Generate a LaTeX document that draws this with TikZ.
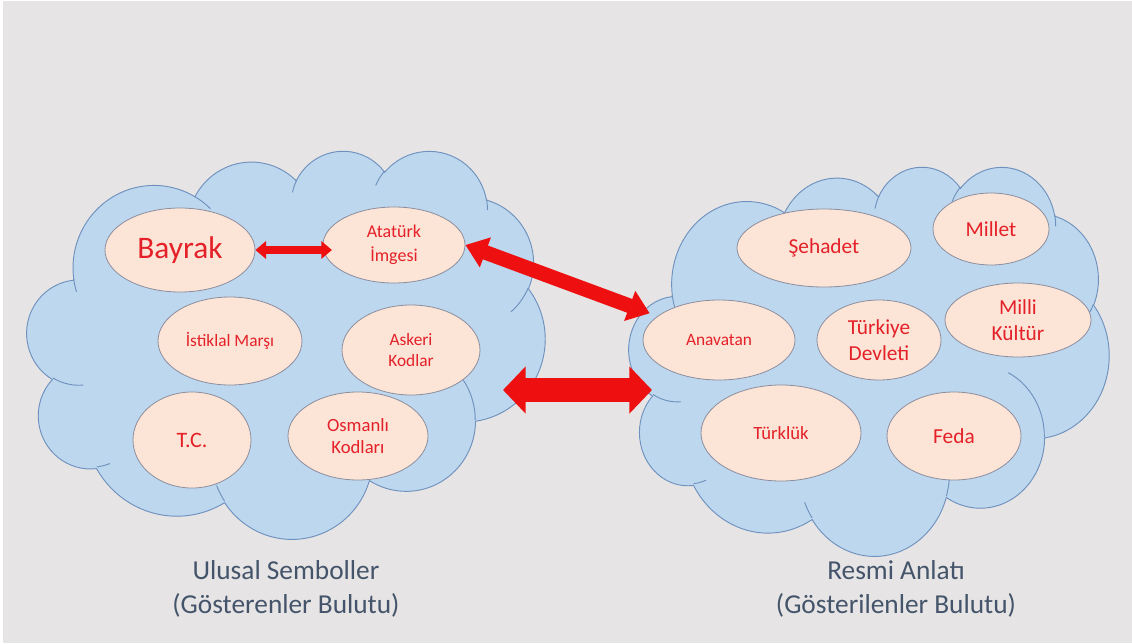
\documentclass[tikz,border=0pt]{standalone}
\usepackage{fontspec}
\setmainfont{Carlito}
\usetikzlibrary{shapes.geometric, arrows.meta}
\usepackage{xcolor}
\definecolor{slidegray}{RGB}{230,228,228}
\definecolor{cloudfill}{RGB}{189,215,238}
\definecolor{cloudline}{RGB}{110,145,190}
\definecolor{bubblefill}{RGB}{252,228,214}
\definecolor{bubbleline}{RGB}{140,142,158}
\definecolor{bubbletext}{RGB}{228,32,40}
\definecolor{arrowred}{RGB}{238,16,16}
\definecolor{captiontext}{RGB}{68,84,106}

% Cloud outline in a 432 x 432 box (y downwards)
\newcommand{\cloudpath}{(39.00,143.70)
	arc[start angle=172.26, delta angle=128.10, x radius=67.53, y radius=91.90]
	arc[start angle=-152.03, delta angle=106.58, x radius=53.33, y radius=72.67]
	arc[start angle=-153.50, delta angle=116.19, x radius=43.65, y radius=59.45]
	arc[start angle=-139.72, delta angle=129.51, x radius=48.57, y radius=65.95]
	arc[start angle=-74.77, delta angle=97.98, x radius=53.33, y radius=72.73]
	arc[start angle=-37.52, delta angle=119.38, x radius=67.75, y radius=92.20]
	arc[start angle=0.46, delta angle=121.52, x radius=57.85, y radius=78.67]
	arc[start angle=16.84, delta angle=129.39, x radius=67.52, y radius=92.15]
	arc[start angle=58.98, delta angle=91.20, x radius=77.20, y radius=105.43]
	arc[start angle=83.31, delta angle=139.81, x radius=43.60, y radius=59.18]
	arc[start angle=120.36, delta angle=143.76, x radius=43.45, y radius=59.45]
	-- cycle}
% Inner hooks of the cloud
\newcommand{\cloudhooks}{
	(46.93,261.77) arc[start angle=85.55, delta angle=34.81, x radius=43.45, y radius=59.45]
	(69.28,348.99) arc[start angle=68.23, delta angle=15.08, x radius=43.60, y radius=59.18]
	(164.78,390.90) arc[start angle=146.23, delta angle=12.24, x radius=67.52, y radius=92.15]
	(288.27,347.51) arc[start angle=4.74, delta angle=12.10, x radius=67.52, y radius=92.15]
	(341.29,229.54) arc[start angle=-64.03, delta angle=64.49, x radius=57.85, y radius=78.67]
	(417.98,153.54) arc[start angle=23.21, delta angle=26.44, x radius=53.33, y radius=72.73]
	(383.24,54.26) arc[start angle=-10.21, delta angle=11.03, x radius=48.57, y radius=65.95]
	(290.78,39.52) arc[start angle=-156.29, delta angle=16.57, x radius=48.57, y radius=65.95]
	(221.41,47.20) arc[start angle=-167.73, delta angle=14.23, x radius=43.65, y radius=59.45]
	(140.00,51.92) arc[start angle=-59.64, delta angle=13.90, x radius=67.53, y radius=91.90]
	(41.27,157.89) arc[start angle=163.19, delta angle=9.07, x radius=67.53, y radius=91.90]}

\begin{document}
\begin{tikzpicture}[x=0.75pt, y=-0.75pt,
	cloudshape/.style={fill=cloudfill, draw=cloudline, line width=0.7pt},
	bubble/.style={ellipse, draw=bubbleline, fill=bubblefill, text=bubbletext,
		line width=0.6pt, inner sep=0pt, align=center},
	cloudcaption/.style={text=captiontext, align=center,
		font=\fontsize{20.5}{25.5}\selectfont},
	smallarrow/.style={arrowred, line width=6pt, >={Triangle[length=8pt, width=13pt]}, <->},
	bigarrow/.style={arrowred, line width=11pt, >={Triangle[length=16pt, width=23pt]}, <->},
	widearrow/.style={arrowred, line width=18pt, >={Triangle[length=17pt, width=34.5pt]}, <->}]
	\useasboundingbox (0,0) rectangle (1132,643);
	% Slide background
	\fill[white] (0,0) rectangle (1132,643);
	\fill[slidegray] (3,1) rectangle (1132,643);
	% Clouds
	\begin{scope}[shift={(27,150)}, xscale=518/432, yscale=388/432]
		\draw[cloudshape] \cloudpath;
		\draw[cloudline, line width=0.7pt] \cloudhooks;
	\end{scope}
	\begin{scope}[shift={(629,166)}, xscale=480/432, yscale=389/432]
		\draw[cloudshape] \cloudpath;
		\draw[cloudline, line width=0.7pt] \cloudhooks;
	\end{scope}
	% Ulusal Semboller
	\node[bubble, minimum width=112.5pt, minimum height=63pt, font=\fontsize{23.5}{28}\selectfont]
		(bayrak) at (180,250) {Bayrak};
	\node[bubble, minimum width=106.5pt, minimum height=57pt, font=\fontsize{13.5}{18}\selectfont]
		(ataturk) at (394,245) {Atatürk\\İmgesi};
	\node[bubble, minimum width=108pt, minimum height=66pt, font=\fontsize{13}{16}\selectfont]
		(istiklal) at (230,341) {İstiklal Marşı};
	\node[bubble, minimum width=103.5pt, minimum height=67.5pt, font=\fontsize{13}{15.5}\selectfont]
		(askeri) at (411,350) {Askeri\\Kodlar};
	\node[bubble, minimum width=88.5pt, minimum height=72pt, font=\fontsize{16.5}{20}\selectfont]
		(tc) at (192,440) {T.C.};
	\node[bubble, minimum width=105pt, minimum height=66pt, font=\fontsize{14}{17}\selectfont]
		(osmanli) at (358,436) {Osmanlı\\Kodları};
	% Resmi Anlati
	\node[bubble, minimum width=130.5pt, minimum height=58.5pt, font=\fontsize{16}{19}\selectfont]
		(sehadet) at (824,248) {Şehadet};
	\node[bubble, minimum width=87pt, minimum height=54pt, font=\fontsize{16}{19}\selectfont]
		(millet) at (991,229) {Millet};
	\node[bubble, minimum width=114pt, minimum height=60pt, font=\fontsize{13}{16}\selectfont]
		(anavatan) at (719,340) {Anavatan};
	\node[bubble, minimum width=93pt, minimum height=60pt, font=\fontsize{16}{19}\selectfont]
		(devlet) at (879,340) {Türkiye\\Devleti};
	\node[bubble, minimum width=109.5pt, minimum height=55.5pt, font=\fontsize{16}{19}\selectfont]
		(kultur) at (1018,320) {Milli\\Kültür};
	\node[bubble, minimum width=120pt, minimum height=72pt, font=\fontsize{14}{17}\selectfont]
		(turkluk) at (781,433) {Türklük};
	\node[bubble, minimum width=100.5pt, minimum height=66pt, font=\fontsize{16}{19}\selectfont]
		(feda) at (954,436) {Feda};
	% Arrows
	\coordinate (semboller) at (503,390);
	\coordinate (anlati) at (652,390);
	\draw[smallarrow] (bayrak.east) -- ([xshift=7pt]bayrak.east -| ataturk.west);
	\draw[bigarrow] (ataturk.east) -- ([xshift=-9pt]anavatan.155);
	\draw[widearrow] (semboller) -- (anlati);
	% Captions
	\node[cloudcaption] (soltext) at (286,589) {Ulusal Semboller\\(Gösterenler Bulutu)};
	\node[cloudcaption] (sagtext) at (896,589) {Resmi Anlatı\\(Gösterilenler Bulutu)};
\end{tikzpicture}
\end{document}
